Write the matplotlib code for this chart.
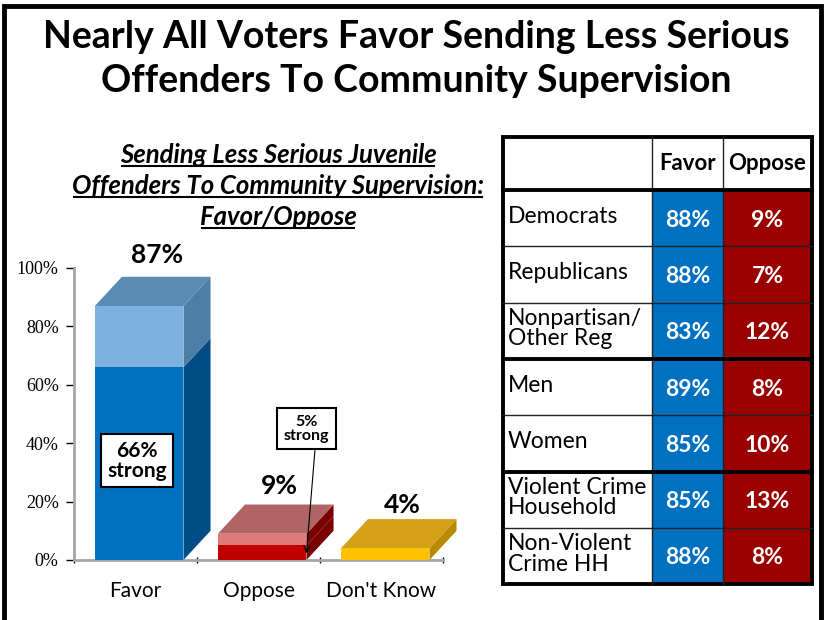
import matplotlib.pyplot as plt
from matplotlib.patches import Polygon, Rectangle

# data
categories = ['Favor', 'Oppose', "Don't Know"]
totals = [87, 9, 4]
strong = [66, 5, 0]

groups = ['Democrats', 'Republicans', 'Nonpartisan/\nOther Reg', 'Men', 'Women',
          'Violent Crime\nHousehold', 'Non-Violent\nCrime HH']
favor = [88, 88, 83, 89, 85, 85, 88]
oppose = [9, 7, 12, 8, 10, 13, 8]

SANS = 'Lato'

fig = plt.figure(figsize=(8.25, 6.2), dpi=100)
W, H = 825, 620

# background layer in pixel coords
bg = fig.add_axes([0, 0, 1, 1])
bg.set_xlim(0, W)
bg.set_ylim(H, 0)
bg.axis('off')

# slide border
bg.plot([4, 4, 821, 821], [H, 6, 6, H], color='black', lw=3.5, solid_joinstyle='miter')

# title
bg.text(416, 37, 'Nearly All Voters Favor Sending Less Serious', ha='center', va='center',
        fontsize=27, fontweight='bold', family=SANS)
bg.text(416, 81, 'Offenders To Community Supervision', ha='center', va='center',
        fontsize=27, fontweight='bold', family=SANS)

# chart subtitle, underlined
sub_lines = ['Sending Less Serious Juvenile', 'Offenders To Community Supervision:', 'Favor/Oppose']
sub_texts = []
for i, s in enumerate(sub_lines):
    t = bg.text(278, 155 + i * 31, s, ha='center', va='center', fontsize=18.5,
                fontweight='bold', style='italic', family=SANS)
    sub_texts.append(t)

# ---- table ----
x_cols = [503, 652, 723, 812]
y_head = 137
y_rows = [190 + i * 56.3 for i in range(len(groups) + 1)]
blue = '#0070C0'
red = '#990000'
for i, g in enumerate(groups):
    y0, y1 = y_rows[i], y_rows[i + 1]
    bg.add_patch(Rectangle((x_cols[1], y0), x_cols[2] - x_cols[1], y1 - y0, color=blue, lw=0))
    bg.add_patch(Rectangle((x_cols[2], y0), x_cols[3] - x_cols[2], y1 - y0, color=red, lw=0))
    yc = (y0 + y1) / 2
    bg.text(x_cols[0] + 5, yc - 2, g, ha='left', va='center', fontsize=16.5, family=SANS,
            linespacing=0.95)
    bg.text((x_cols[1] + x_cols[2]) / 2, yc + 2, f'{favor[i]}%', ha='center', va='center',
            fontsize=16.5, fontweight='bold', color='white', family=SANS)
    bg.text((x_cols[2] + x_cols[3]) / 2, yc + 2, f'{oppose[i]}%', ha='center', va='center',
            fontsize=16.5, fontweight='bold', color='white', family=SANS)
bg.text((x_cols[1] + x_cols[2]) / 2, (y_head + y_rows[0]) / 2, 'Favor', ha='center',
        va='center', fontsize=16, fontweight='bold', family=SANS)
bg.text((x_cols[2] + x_cols[3]) / 2, (y_head + y_rows[0]) / 2, 'Oppose', ha='center',
        va='center', fontsize=16, fontweight='bold', family=SANS)
# grid lines
for y in y_rows[1:-1]:
    bg.plot([x_cols[0], x_cols[3]], [y, y], color='#222222', lw=1)
for x in x_cols[1:3]:
    bg.plot([x, x], [y_head, y_rows[-1]], color='#222222', lw=1)
for y in [y_rows[0], y_rows[3], y_rows[5]]:
    bg.plot([x_cols[0], x_cols[3]], [y, y], color='black', lw=2.8)
bg.add_patch(Rectangle((x_cols[0], y_head), x_cols[3] - x_cols[0], y_rows[-1] - y_head,
                       fill=False, ec='black', lw=2.8))

# ---- 3D-looking bar chart ----
ax = fig.add_axes([74 / W, (H - 560) / H, 369 / W, 292 / H])
ax.set_xlim(0, 3)
ax.set_ylim(0, 100)
for s in ['top', 'right']:
    ax.spines[s].set_visible(False)
for s in ['left', 'bottom']:
    ax.spines[s].set_color('#A6A6A6')
    ax.spines[s].set_linewidth(2)
ax.set_yticks(range(0, 101, 20))
ax.set_yticklabels([f'{v}%' for v in range(0, 101, 20)], family='Liberation Serif', fontsize=13)
ax.tick_params(axis='y', length=6, width=1, color='black', direction='out', pad=5)
ax.set_xticks([0, 1, 2, 3])
ax.set_xticklabels([])
ax.tick_params(axis='x', length=5, width=1, color='black', direction='inout')
for i, c in enumerate(categories):
    ax.text(i + 0.5, -10.5, c, ha='center', va='center', fontsize=15, family=SANS)

front_lo = ['#0070C0', '#C00000', '#FFC000']
front_hi = ['#7DB1DF', '#E07A7A', '#FFC000']
side_lo = ['#004C86', '#7A0000', '#B88A00']
side_hi = ['#4D7EA8', '#7A0000', '#B88A00']
top_c = ['#5A8BB5', '#B06464', '#D4A017']
bw, dx, dy = 0.72, 0.22, 10

for i in range(3):
    x0 = i + 0.17
    x1 = x0 + bw
    h = totals[i]
    st = strong[i]
    ax.add_patch(Rectangle((x0, 0), bw, st, color=front_lo[i], lw=0, zorder=3))
    ax.add_patch(Rectangle((x0, st), bw, h - st, color=front_hi[i], lw=0, zorder=3))
    # side face
    ax.add_patch(Polygon([(x1, 0), (x1 + dx, dy), (x1 + dx, st + dy), (x1, st)],
                         closed=True, color=side_lo[i], lw=0, zorder=2, clip_on=False))
    ax.add_patch(Polygon([(x1, st), (x1 + dx, st + dy), (x1 + dx, h + dy), (x1, h)],
                         closed=True, color=side_hi[i], lw=0, zorder=2, clip_on=False))
    # top face
    ax.add_patch(Polygon([(x0, h), (x0 + dx, h + dy), (x1 + dx, h + dy), (x1, h)],
                         closed=True, color=top_c[i], lw=0, zorder=2, clip_on=False))

ax.text(0.675, 104.5, f'{totals[0]}%', ha='center', va='center', fontsize=19,
        fontweight='bold', family=SANS, clip_on=False)
ax.text(1.67, 25.5, f'{totals[1]}%', ha='center', va='center', fontsize=19,
        fontweight='bold', family=SANS)
ax.text(2.67, 19, f'{totals[2]}%', ha='center', va='center', fontsize=19,
        fontweight='bold', family=SANS)

ax.text(0.515, 34, f'{strong[0]}%\nstrong', ha='center', va='center', fontsize=15,
        fontweight='bold', family=SANS, linespacing=1.0, zorder=5,
        bbox=dict(boxstyle='square,pad=0.3', fc='white', ec='black', lw=1.5))
ax.annotate(f'{strong[1]}%\nstrong', xy=(1.89, 2.3), xytext=(1.89, 45),
            ha='center', va='center', fontsize=11.5, fontweight='bold', family=SANS,
            linespacing=1.0, zorder=5,
            bbox=dict(boxstyle='square,pad=0.4', fc='white', ec='black', lw=1.5),
            arrowprops=dict(arrowstyle='->', color='black', lw=0.8, shrinkA=0, shrinkB=0,
                            relpos=(0.7, 0)))

# underline subtitle lines
fig.canvas.draw()
r = fig.canvas.get_renderer()
for t in sub_texts:
    bb = t.get_window_extent(r)
    yb = H - bb.y0 - 1
    bg.plot([bb.x0 + 2, bb.x1 - 2], [yb, yb], color='black', lw=1.5)

fig.savefig('out.png', dpi=100)
